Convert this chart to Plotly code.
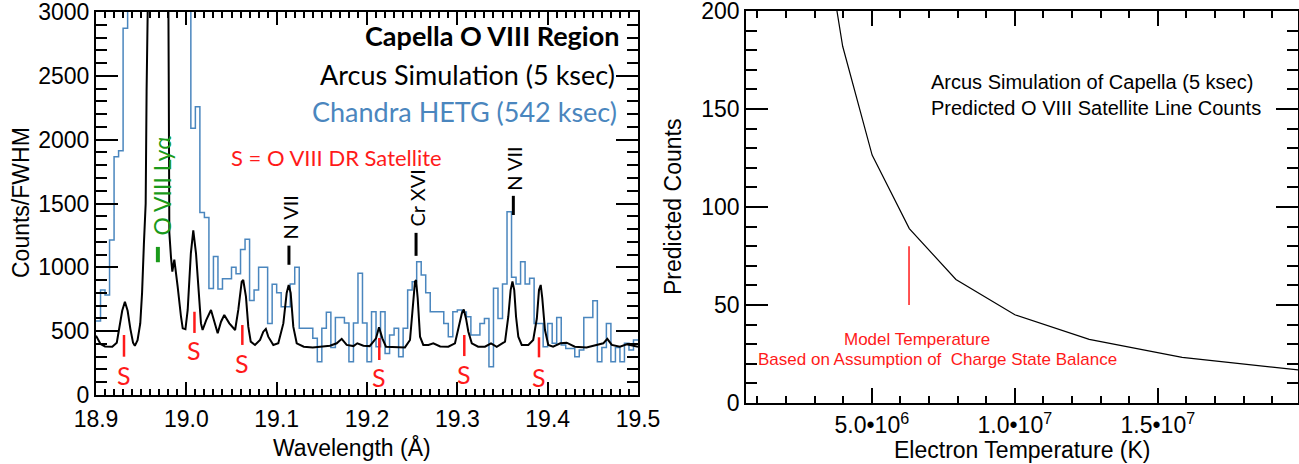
import numpy as np
import plotly.graph_objects as go

# ---------------- data: left panel ----------------
# Chandra HETG histogram, 0.005 A bins starting at 18.900 A (counts per bin; >3000 is off-scale)
chandra_counts = [
    580, 822, 783, 1214, 1867, 1914, 2872, 3600, 5200, 7500,
    9800, 11500, 12500, 12800, 12000, 10200, 8000, 6000, 4700, 3900,
    3300, 2090, 2258, 1430, 1390, 835, 1085, 830, 910, 910,
    1000, 950, 1140, 1220, 740, 822, 1000, 1000, 561, 867,
    800, 692, 692, 870, 1000, 522, 522, 522, 444, 261,
    522, 648, 373, 608, 608, 564, 261, 564, 953, 564,
    261, 653, 378, 653, 326, 470, 522, 300, 522, 822,
    888, 1044, 940, 800, 653, 653, 653, 560, 457, 653,
    665, 650, 613, 470, 470, 560, 600, 222, 836, 600,
    869, 1436, 922, 869, 1044, 869, 914, 561, 561, 378,
    561, 405, 608, 392, 365, 365, 300, 352, 608, 608,
    739, 261, 373, 561, 261, 373, 261, 405, 352, 431,
]
chandra_bin_start = 18.9
chandra_bin_width = 0.005

# Arcus simulation (5 ksec)
arcus_wl = [
    18.900, 18.905, 18.910, 18.918, 18.923, 18.926, 18.929, 18.932, 18.935, 18.938,
    18.941, 18.943, 18.946, 18.949, 18.951, 18.953, 18.955, 18.956, 18.957, 18.962,
    18.969, 18.975, 18.9795, 18.9805, 18.9812, 18.983, 18.9845, 18.9867, 18.9886, 18.9904,
    18.9941, 18.996, 18.999, 19.0015, 19.005, 19.0077, 19.0107, 19.0137, 19.0162, 19.018,
    19.022, 19.0273, 19.031, 19.0347, 19.0384, 19.042, 19.0476, 19.054, 19.0575, 19.0613,
    19.063, 19.066, 19.0686, 19.0713, 19.076, 19.0816, 19.0852, 19.088, 19.0907, 19.0963,
    19.1018, 19.1074, 19.1111, 19.1133, 19.1155, 19.1184, 19.1222, 19.130, 19.140, 19.159,
    19.1665, 19.172, 19.1775, 19.185, 19.1893, 19.196, 19.203, 19.210, 19.2133, 19.217,
    19.221, 19.231, 19.242, 19.2476, 19.2506, 19.2531, 19.2543, 19.2561, 19.2587, 19.2623,
    19.268, 19.2734, 19.281, 19.290, 19.2974, 19.301, 19.305, 19.3071, 19.3096, 19.3122,
    19.316, 19.323, 19.3306, 19.3373, 19.3436, 19.3528, 19.3564, 19.359, 19.361, 19.363,
    19.365, 19.3675, 19.3713, 19.3786, 19.384, 19.388, 19.3904, 19.3923, 19.394, 19.397,
    19.4007, 19.406, 19.414, 19.421, 19.430, 19.443, 19.454, 19.4616, 19.466, 19.471,
    19.480, 19.4875, 19.495, 19.500,
]
arcus_counts = [
    465, 400, 380, 378, 410, 520, 660, 730, 660, 520,
    410, 385, 430, 560, 800, 1180, 1500, 2380, 3200, 7000,
    9000, 7000, 4000, 2500, 1270, 1080, 966, 1060, 966, 848,
    613, 522, 515, 666, 1110, 1290, 1110, 800, 561, 509,
    587, 666, 580, 483, 574, 627, 561, 509, 666, 888,
    901, 770, 535, 418, 392, 431, 496, 517, 457, 392,
    405, 561, 799, 862, 799, 535, 405, 378, 373, 386,
    405, 440, 392, 383, 405, 386, 383, 444, 530, 444,
    378, 373, 373, 431, 666, 888, 900, 760, 457, 392,
    392, 405, 380, 378, 405, 509, 640, 670, 600, 496,
    405, 378, 378, 405, 378, 418, 613, 822, 890, 822,
    613, 457, 392, 392, 431, 599, 822, 862, 760, 509,
    392, 378, 405, 410, 378, 373, 392, 405, 440, 392,
    378, 397, 385, 378,
]

# line identifications
sat_wl = [18.931, 19.009, 19.062, 19.2136, 19.3077, 19.3904]   # O VIII DR satellites
sat_lo = [300, 486, 392, 274, 305, 295]
sat_hi = [470, 652, 548, 446, 470, 452]
sat_label = [157, 352, 251, 143, 164, 143]

lya_wl, lya_lo, lya_hi, lya_text = 18.9685, 1040, 1160, 1640
ids_name = ["N VII", "Cr XVI", "N VII"]
ids_wl = [19.1136, 19.2543, 19.3620]
ids_lo = [1020, 1090, 1410]
ids_hi = [1170, 1270, 1560]
ids_text = [1390, 1540, 1775]

# ---------------- data: right panel ----------------
temp_K = [3.16e6, 3.98e6, 5.01e6, 6.31e6, 7.94e6, 1.0e7, 1.26e7, 1.585e7, 2.0e7]
pred_counts = [256, 182, 126.5, 89, 63, 45, 32.5, 23.3, 16.7]
model_T = 6.3e6
model_lo, model_hi = 50, 80

x2_ticks = [5e6, 1e7, 1.5e7]
x2_ticktext = ["5.0\u202210<sup>6</sup>", "1.0\u202210<sup>7</sup>", "1.5\u202210<sup>7</sup>"]
x1_ticks = [18.9, 19.0, 19.1, 19.2, 19.3, 19.4, 19.5]
x1_ticktext = ["18.9", "19.0", "19.1", "19.2", "19.3", "19.4", "19.5"]

# ---------------- figure ----------------
W, H = 1299, 464
BLUE = "#4a86be"
RED = "#ff1a1a"
GREEN = "#1a9a1a"
SANS = "Liberation Sans, Arial, sans-serif"
MYR = "Lato, Liberation Sans, sans-serif"

def px(x):
    return x / W

def py(y):
    return 1 - y / H

n = len(chandra_counts)
edges = np.round(chandra_bin_start + chandra_bin_width * np.arange(n + 1), 4)
chandra_y = list(chandra_counts) + [chandra_counts[-1]]

fig = go.Figure()
fig.add_trace(go.Scatter(x=edges, y=chandra_y, mode="lines", line=dict(color=BLUE, width=1.5, shape="hv"),
                         xaxis="x", yaxis="y", showlegend=False, hoverinfo="skip"))
fig.add_trace(go.Scatter(x=arcus_wl, y=arcus_counts, mode="lines", line=dict(color="black", width=2),
                         xaxis="x", yaxis="y", showlegend=False, hoverinfo="skip"))
fig.add_trace(go.Scatter(x=temp_K, y=pred_counts, mode="lines", line=dict(color="black", width=1.2),
                         xaxis="x2", yaxis="y2", showlegend=False, hoverinfo="skip"))

shapes = []
annotations = []
for wl, lo, hi, ly in zip(sat_wl, sat_lo, sat_hi, sat_label):
    shapes.append(dict(type="line", xref="x", yref="y", x0=wl, x1=wl, y0=lo, y1=hi,
                       line=dict(color=RED, width=2.5), layer="above"))
    annotations.append(dict(x=wl, y=ly, xref="x", yref="y", text="S", showarrow=False,
                            xanchor="center", yanchor="middle",
                            font=dict(family=MYR, size=25, color=RED)))
shapes.append(dict(type="line", xref="x", yref="y", x0=lya_wl, x1=lya_wl, y0=lya_lo, y1=lya_hi,
                   line=dict(color=GREEN, width=4), layer="above"))
annotations.append(dict(x=lya_wl, y=lya_text, xref="x", yref="y", text="O VIII Ly\u03b1", textangle=-90,
                        xanchor="center", yanchor="middle",
                        showarrow=False, xshift=4, font=dict(family=MYR, size=23, color=GREEN)))
for name, wl, lo, hi, ty in zip(ids_name, ids_wl, ids_lo, ids_hi, ids_text):
    shapes.append(dict(type="line", xref="x", yref="y", x0=wl, x1=wl, y0=lo, y1=hi,
                       line=dict(color="black", width=3), layer="above"))
    annotations.append(dict(x=wl, y=ty, xref="x", yref="y", text=name, textangle=-90,
                            xanchor="center", yanchor="middle",
                            showarrow=False, xshift=1, font=dict(family=MYR, size=20, color="black")))
shapes.append(dict(type="line", xref="x2", yref="y2", x0=model_T, x1=model_T, y0=model_lo, y1=model_hi,
                   line=dict(color=RED, width=1.5), layer="above"))

def txt(x, y, text, family, size, color, xanchor="center", angle=0):
    return dict(x=px(x), y=py(y), xref="paper", yref="paper", xanchor=xanchor, yanchor="middle",
                text=text, textangle=angle, showarrow=False, font=dict(family=family, size=size, color=color))

# panel texts
annotations += [
    txt(621, 36, "<b>Capella O VIII Region</b>", MYR, 27, "black", "right"),
    txt(617, 74, "Arcus Simulation (5 ksec)", MYR, 27, "black", "right"),
    txt(619, 111, "Chandra HETG (542 ksec)", MYR, 27, BLUE, "right"),
    txt(336, 157, "S = O VIII DR Satellite", MYR, 22, RED),
    txt(21, 203, "Counts/FWHM", SANS, 23, "black", angle=-90),
    txt(352, 447, "Wavelength (\u00c5)", SANS, 23, "black"),
    txt(929, 82, "Arcus Simulation of Capella (5 ksec)", SANS, 20, "black", "left"),
    txt(929, 108, "Predicted O VIII Satellite Line Counts", SANS, 20, "black", "left"),
    txt(917, 339, "Model Temperature", SANS, 17, RED),
    txt(937, 359, "Based on Assumption of \u00a0Charge State Balance", SANS, 17, RED),
    txt(673, 207, "Predicted Counts", SANS, 23, "black", angle=-90),
    txt(1022, 450, "Electron Temperature (K)", SANS, 23, "black"),
]

def axis_common(lw):
    return dict(showgrid=False, zeroline=False, showline=True, linecolor="black", linewidth=lw,
                mirror="allticks", ticks="inside", tickcolor="black", tickwidth=1.5, automargin=False,
                ticklabeloverflow="allow",
                tickfont=dict(family=SANS, size=23, color="black"))

fig.update_layout(
    width=W, height=H, margin=dict(l=0, r=0, t=0, b=0, pad=0, autoexpand=False),
    paper_bgcolor="white", plot_bgcolor="white", showlegend=False,
    xaxis=dict(**axis_common(2), domain=[px(96), px(638)], range=[18.9, 19.5], anchor="y",
               tickmode="array", tickvals=x1_ticks, ticktext=x1_ticktext, ticklen=13, ticklabelstandoff=2,
               minor=dict(dtick=0.01, tick0=18.9, ticklen=6, ticks="inside", tickcolor="black", tickwidth=1.5)),
    yaxis=dict(**axis_common(2), domain=[py(395), py(12)], range=[0, 3000], anchor="x",
               tick0=0, dtick=500, ticklen=22,
               minor=dict(dtick=100, ticklen=11, ticks="inside", tickcolor="black", tickwidth=1.5)),
    xaxis2=dict(**axis_common(1.5), domain=[px(746), px(1298)], range=[6e5, 1.99e7], anchor="y2",
                tickmode="array", tickvals=x2_ticks, ticktext=x2_ticktext, ticklen=15, ticklabelstandoff=1,
                minor=dict(tick0=0, dtick=1e6, ticklen=7, ticks="inside", tickcolor="black", tickwidth=1.5)),
    yaxis2=dict(**axis_common(1.5), domain=[py(403), py(11)], range=[0, 200], anchor="x2",
                tick0=0, dtick=50, ticklen=22,
                minor=dict(dtick=10, ticklen=11, ticks="inside", tickcolor="black", tickwidth=1.5)),
    shapes=shapes, annotations=annotations,
)

fig.write_html("out.html")
